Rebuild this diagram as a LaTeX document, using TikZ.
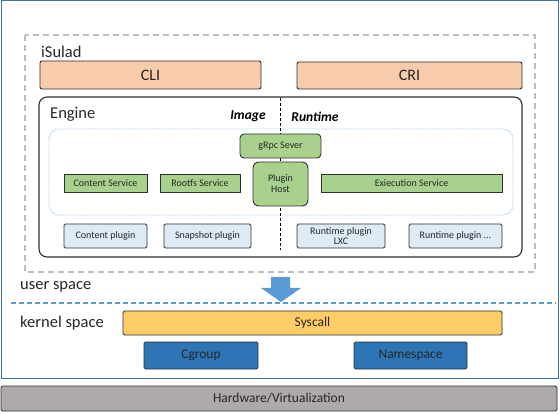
\documentclass[tikz,border=0pt]{standalone}
\usepackage{fontspec}
\setmainfont{Carlito}
\usetikzlibrary{positioning}

\definecolor{peach}{HTML}{F8CBAD}
\definecolor{leaf}{HTML}{A9D18E}
\definecolor{pale}{HTML}{DEEBF7}
\definecolor{sun}{HTML}{FFCC66}
\definecolor{deepblue}{HTML}{2E75B6}
\definecolor{skyblue}{HTML}{5B9BD5}
\definecolor{dotblue}{HTML}{9DC3E6}
\definecolor{frameblue}{HTML}{41719C}
\definecolor{stone}{HTML}{AEAAAA}
\definecolor{edge}{HTML}{303030}
\definecolor{ink}{HTML}{262626}

\tikzset{
  ifbox/.style={draw=edge, line width=0.9pt, fill=peach, rounded corners=2pt, inner sep=0pt, text=ink, font=\fontsize{16}{18}\selectfont},
  svcbox/.style={draw=edge, line width=0.9pt, fill=leaf, inner sep=0pt, text=ink, font=\fontsize{10}{11}\selectfont},
  plugbox/.style={draw=edge, line width=0.9pt, fill=pale, rounded corners=1.5pt, inner sep=0pt, text=ink, align=center, font=\fontsize{10}{10}\selectfont},
  kernbox/.style={draw=edge, line width=0.9pt, rounded corners=1.5pt, inner sep=0pt, text=ink, font=\fontsize{13.5}{15}\selectfont},
  tag/.style={anchor=west, inner sep=0pt, text=ink, font=\fontsize{16.5}{18}\selectfont},
  side/.style={inner sep=0pt, text=black, font=\fontsize{13.5}{15}\bfseries\itshape}
}

\begin{document}
\begin{tikzpicture}[x=1pt, y=-1pt]
  \useasboundingbox (0,0) rectangle (560,414);

  % outer frame and containers
  \draw[frameblue, line width=1pt] (1,1) rectangle (558,378);
  \draw[black!25, line width=1.5pt, dash pattern=on 6pt off 4pt] (25,35) rectangle (535,272);
  \draw[edge, line width=1.1pt, rounded corners=8pt] (39,97) rectangle (522,257);
  \draw[dotblue, densely dotted, line width=0.9pt, rounded corners=10pt] (49,129) rectangle (513,215);
  \draw[black, line width=1pt, dash pattern=on 3pt off 2pt] (280,98) -- (280,250);

  \node[tag] (isulad) at (41,52) {iSulad};
  \node[ifbox, minimum width=221pt, minimum height=28pt] (cli) at (150.5,75) {CLI};
  \node[ifbox, minimum width=225pt, minimum height=27pt] (cri) at (409.5,75.5) {CRI};

  \node[tag] (engine) at (50,114) {Engine};
  \node[side] (image) at (248,116) {Image};
  \node[side] (runtime) at (315,117) {Runtime};

  % services
  \node[svcbox, rounded corners=4pt, minimum width=81pt, minimum height=24pt] (grpc) at (280.5,146) {gRpc Sever};
  \node[svcbox, rounded corners=6pt, minimum width=55pt, minimum height=44pt, align=center] (host) at (280.5,184) {Plugin\\Host};
  \node[svcbox, minimum width=83pt, minimum height=18pt] (content) at (105.5,183) {Content Service};
  \node[svcbox, minimum width=80pt, minimum height=18pt] (rootfs) at (200,183) {Rootfs Service};
  \node[svcbox, minimum width=181pt, minimum height=18pt] (exec) at (411.5,183) {Exiecution Service};

  % plugins
  \node[plugbox, minimum width=83pt, minimum height=24pt] (contentplug) at (105.5,236) {Content plugin};
  \node[plugbox, minimum width=87pt, minimum height=24pt] (snapplug) at (207.5,236) {Snapshot plugin};
  \node[plugbox, minimum width=88pt, minimum height=24pt] (lxcplug) at (341,236) {Runtime plugin\\LXC};
  \node[plugbox, minimum width=93pt, minimum height=24pt] (moreplug) at (455.5,236) {Runtime plugin ...};

  % user / kernel boundary
  \node[tag] (user) at (20,287) {user space};
  \fill[skyblue] (271,277) -- (290,277) -- (290,288) -- (301,288) -- (281,302) -- (261,288) -- (271,288) -- cycle;
  \draw[skyblue, line width=1.2pt, dash pattern=on 5pt off 3pt] (11,303) -- (556,303);
  \node[tag] (kernel) at (20,323) {kernel space};

  \node[kernbox, fill=sun, minimum width=379pt, minimum height=24pt] (syscall) at (312.5,323) {Syscall};
  \node[kernbox, fill=deepblue, minimum width=114pt, minimum height=27pt] (cgroup) at (201,355.5) {Cgroup};
  \node[kernbox, fill=deepblue, minimum width=113pt, minimum height=27pt] (ns) at (410.5,355.5) {Namespace};

  \node[kernbox, fill=stone, minimum width=556pt, minimum height=25pt] (hw) at (279,398.5) {Hardware/Virtualization};
\end{tikzpicture}
\end{document}
